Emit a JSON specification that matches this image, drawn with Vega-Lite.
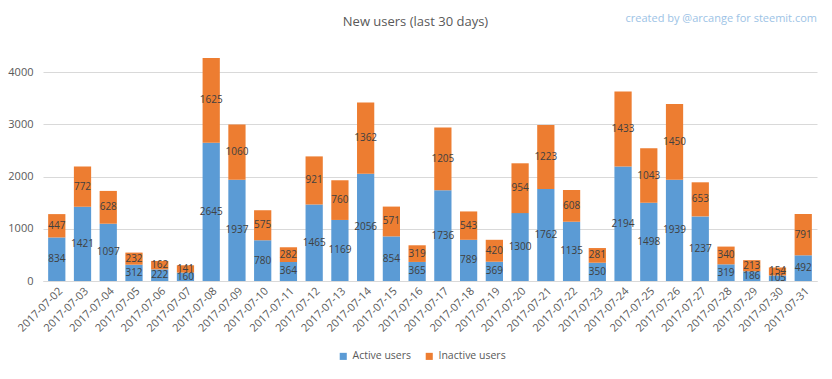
{
  "$schema": "https://vega.github.io/schema/vega-lite/v6.json",
  "width": 774,
  "height": 235,
  "autosize": "none",
  "padding": {"left": 43, "top": 46, "right": 15, "bottom": 98},
  "background": "white",
  "config": {"font": "Open Sans", "view": {"stroke": null}},
  "title": {"text": "created by @arcange for steemit.com", "anchor": "end", "fontSize": 11, "fontWeight": "normal", "color": "#9DC3E6", "offset": 0, "dy": 9},
  "data": {"values": [
    {"date": "2017-07-02", "type": "Active users", "users": 834}, {"date": "2017-07-02", "type": "Inactive users", "users": 447},
    {"date": "2017-07-03", "type": "Active users", "users": 1421}, {"date": "2017-07-03", "type": "Inactive users", "users": 772},
    {"date": "2017-07-04", "type": "Active users", "users": 1097}, {"date": "2017-07-04", "type": "Inactive users", "users": 628},
    {"date": "2017-07-05", "type": "Active users", "users": 312}, {"date": "2017-07-05", "type": "Inactive users", "users": 232},
    {"date": "2017-07-06", "type": "Active users", "users": 222}, {"date": "2017-07-06", "type": "Inactive users", "users": 162},
    {"date": "2017-07-07", "type": "Active users", "users": 160}, {"date": "2017-07-07", "type": "Inactive users", "users": 141},
    {"date": "2017-07-08", "type": "Active users", "users": 2645}, {"date": "2017-07-08", "type": "Inactive users", "users": 1625},
    {"date": "2017-07-09", "type": "Active users", "users": 1937}, {"date": "2017-07-09", "type": "Inactive users", "users": 1060},
    {"date": "2017-07-10", "type": "Active users", "users": 780}, {"date": "2017-07-10", "type": "Inactive users", "users": 575},
    {"date": "2017-07-11", "type": "Active users", "users": 364}, {"date": "2017-07-11", "type": "Inactive users", "users": 282},
    {"date": "2017-07-12", "type": "Active users", "users": 1465}, {"date": "2017-07-12", "type": "Inactive users", "users": 921},
    {"date": "2017-07-13", "type": "Active users", "users": 1169}, {"date": "2017-07-13", "type": "Inactive users", "users": 760},
    {"date": "2017-07-14", "type": "Active users", "users": 2056}, {"date": "2017-07-14", "type": "Inactive users", "users": 1362},
    {"date": "2017-07-15", "type": "Active users", "users": 854}, {"date": "2017-07-15", "type": "Inactive users", "users": 571},
    {"date": "2017-07-16", "type": "Active users", "users": 365}, {"date": "2017-07-16", "type": "Inactive users", "users": 319},
    {"date": "2017-07-17", "type": "Active users", "users": 1736}, {"date": "2017-07-17", "type": "Inactive users", "users": 1205},
    {"date": "2017-07-18", "type": "Active users", "users": 789}, {"date": "2017-07-18", "type": "Inactive users", "users": 543},
    {"date": "2017-07-19", "type": "Active users", "users": 369}, {"date": "2017-07-19", "type": "Inactive users", "users": 420},
    {"date": "2017-07-20", "type": "Active users", "users": 1300}, {"date": "2017-07-20", "type": "Inactive users", "users": 954},
    {"date": "2017-07-21", "type": "Active users", "users": 1762}, {"date": "2017-07-21", "type": "Inactive users", "users": 1223},
    {"date": "2017-07-22", "type": "Active users", "users": 1135}, {"date": "2017-07-22", "type": "Inactive users", "users": 608},
    {"date": "2017-07-23", "type": "Active users", "users": 350}, {"date": "2017-07-23", "type": "Inactive users", "users": 281},
    {"date": "2017-07-24", "type": "Active users", "users": 2194}, {"date": "2017-07-24", "type": "Inactive users", "users": 1433},
    {"date": "2017-07-25", "type": "Active users", "users": 1498}, {"date": "2017-07-25", "type": "Inactive users", "users": 1043},
    {"date": "2017-07-26", "type": "Active users", "users": 1939}, {"date": "2017-07-26", "type": "Inactive users", "users": 1450},
    {"date": "2017-07-27", "type": "Active users", "users": 1237}, {"date": "2017-07-27", "type": "Inactive users", "users": 653},
    {"date": "2017-07-28", "type": "Active users", "users": 319}, {"date": "2017-07-28", "type": "Inactive users", "users": 340},
    {"date": "2017-07-29", "type": "Active users", "users": 186}, {"date": "2017-07-29", "type": "Inactive users", "users": 213},
    {"date": "2017-07-30", "type": "Active users", "users": 105}, {"date": "2017-07-30", "type": "Inactive users", "users": 154},
    {"date": "2017-07-31", "type": "Active users", "users": 492}, {"date": "2017-07-31", "type": "Inactive users", "users": 791}
  ]},
  "transform": [
    {"stack": "users", "groupby": ["date"], "sort": [{"field": "type", "order": "ascending"}], "as": ["y0", "y1"]},
    {"calculate": "(datum.y0 + datum.y1) / 2", "as": "ymid"}
  ],
  "layer": [
    {
      "mark": {"type": "bar"},
      "encoding": {
        "x": {"field": "date", "type": "nominal", "sort": null,
          "scale": {"paddingInner": 0.33, "paddingOuter": 0.2},
          "axis": {"orient": "bottom", "title": null, "labelAngle": -45, "labelFontSize": 11, "labelColor": "#595959", "ticks": false, "domainColor": "#d9d9d9", "labelPadding": 4}},
        "y": {"field": "y1", "type": "quantitative", "title": null,
          "scale": {"domain": [0, 4500], "nice": false},
          "axis": {"values": [0, 500, 1000, 1500, 2000, 2500, 3000, 3500, 4000, 4500], "format": "d", "domain": false, "ticks": false, "labelFontSize": 11, "labelColor": "#595959", "labelPadding": 10, "gridColor": "#d9d9d9", "title": null}},
        "y2": {"field": "y0"},
        "color": {"field": "type", "type": "nominal",
          "scale": {"domain": ["Active users", "Inactive users"], "range": ["#5B9BD5", "#ED7D31"]},
          "legend": {"orient": "none", "legendX": 295, "legendY": 305, "direction": "horizontal", "title": null, "symbolType": "square", "symbolSize": 50, "labelFontSize": 10.5, "labelColor": "#595959", "columnPadding": 12}}
      }
    },
    {
      "mark": {"type": "text", "fontSize": 10, "color": "#404040"},
      "encoding": {
        "x": {"field": "date", "type": "nominal", "sort": null,
          "axis": {"orient": "top", "title": "New users (last 30 days)", "titleFontSize": 13, "titleFontWeight": "normal", "titleColor": "#595959", "titlePadding": 18, "labels": false, "ticks": false, "domain": false, "grid": false, "titleX": 372}},
        "y": {"field": "ymid", "type": "quantitative", "title": null},
        "text": {"field": "users", "type": "quantitative"}
      }
    }
  ],
  "resolve": {"axis": {"x": "independent"}}
}
